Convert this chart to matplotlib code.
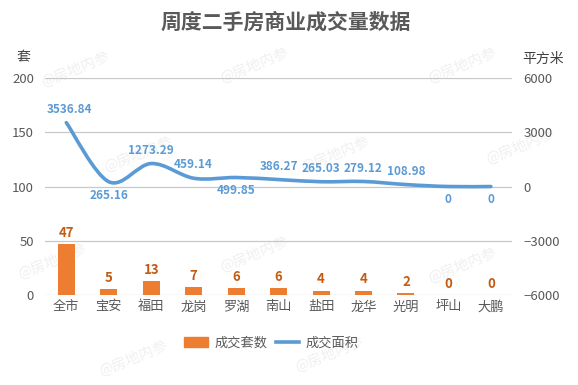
import matplotlib
matplotlib.use("Agg")
import matplotlib.pyplot as plt
from matplotlib.path import Path
from matplotlib.patches import PathPatch
from matplotlib.lines import Line2D
from matplotlib.patches import Patch
import numpy as np

plt.rcParams['font.family'] = ['Noto Sans CJK SC', 'DejaVu Sans']

districts = ['全市', '宝安', '福田', '龙岗', '罗湖', '南山', '盐田', '龙华', '光明', '坪山', '大鹏']
units = [47, 5, 13, 7, 6, 6, 4, 4, 2, 0, 0]
area = [3536.84, 265.16, 1273.29, 459.14, 499.85, 386.27, 265.03, 279.12, 108.98, 0, 0]
area_labels = ['3536.84', '265.16', '1273.29', '459.14', '499.85', '386.27',
               '265.03', '279.12', '108.98', '0', '0']
area_label_below = [False, True, False, False, True, False, False, False, False, True, True]

orange = '#ED7D31'
orange_dark = '#C55A11'
blue = '#5B9BD5'
grey = '#595959'

fig = plt.figure(figsize=(5.78, 3.85), dpi=100)
ax = fig.add_axes([0.078, 0.234, 0.808, 0.563])
ax2 = ax.twinx()

x = np.arange(len(districts))

# faint watermarks, behind everything
marks = [(0.13, 0.82), (0.44, 0.83), (0.80, 0.83), (0.24, 0.60), (0.58, 0.60), (0.90, 0.62),
         (0.09, 0.32), (0.44, 0.34), (0.80, 0.31), (0.23, 0.07), (0.57, 0.08)]
for mx, my in marks:
    fig.text(mx, my, '@房地内参', fontsize=10.5, color='#f0f0f0', rotation=22,
             ha='center', va='center', zorder=-5)

ax.bar(x, units, width=0.4, color=orange, zorder=3)
for xi, v in zip(x, units):
    ax.annotate(str(v), (xi, v), xytext=(0, 3), textcoords='offset points',
                ha='center', va='bottom', fontsize=9.5, fontweight='bold', color=orange_dark)

ax.set_ylim(0, 200)
ax.set_yticks([0, 50, 100, 150, 200])
ax.set_xlim(-0.5, len(districts) - 0.5)
ax.set_xticks(x)
ax.set_xticklabels(districts)
ax.grid(axis='y', color='#c8c8c8', linewidth=0.9, zorder=0)
ax.set_axisbelow(True)
for s in ax.spines.values():
    s.set_visible(False)
for s in ax2.spines.values():
    s.set_visible(False)
ax.tick_params(length=0, labelsize=9.5, colors=grey, pad=4)
ax.tick_params(axis='y', pad=8)
ax.patch.set_visible(False)
ax2.patch.set_visible(False)

# smoothed line (Catmull-Rom as cubic Bezier)
pts = np.column_stack([x, area]).astype(float)
ext = np.vstack([pts[0], pts, pts[-1]])
verts = [tuple(pts[0])]
codes = [Path.MOVETO]
for i in range(len(pts) - 1):
    p0, p1, p2, p3 = ext[i], ext[i + 1], ext[i + 2], ext[i + 3]
    c1 = p1 + (p2 - p0) / 6
    c2 = p2 - (p3 - p1) / 6
    verts += [tuple(c1), tuple(c2), tuple(p2)]
    codes += [Path.CURVE4] * 3
ax2.add_patch(PathPatch(Path(verts, codes), facecolor='none', edgecolor=blue,
                        linewidth=2.6, capstyle='round', zorder=4))
ax2.set_ylim(-6000, 6000)
ax2.set_yticks([-6000, -3000, 0, 3000, 6000])
ax2.tick_params(length=0, labelsize=9.5, colors=grey, pad=8)

for xi, v, lab, below in zip(x, area, area_labels, area_label_below):
    dx = 2 if xi == 0 else 0
    ax2.annotate(lab, (xi, v), xytext=(dx, -5 if below else 5), textcoords='offset points',
                 ha='center', va='top' if below else 'bottom',
                 fontsize=8.5, fontweight='bold', color=blue)

fig.text(0.494, 0.943, '周度二手房商业成交量数据', fontsize=15, fontweight='bold',
         color=grey, ha='center', va='center')
fig.text(0.040, 0.85, '套', fontsize=10, color='#404040', ha='center', va='center')
fig.text(0.94, 0.847, '平方米', fontsize=10, color='#404040', ha='center', va='center')

handles = [Patch(color=orange), Line2D([], [], color=blue, linewidth=2.6)]
fig.legend(handles, ['成交套数', '成交面积'], loc='center', bbox_to_anchor=(0.47, 0.108),
           ncol=2, frameon=False, fontsize=9.5, labelcolor=grey,
           handlelength=1.8, handleheight=0.8, handletextpad=0.5, columnspacing=0.6)

fig.savefig('out.png', dpi=100)
